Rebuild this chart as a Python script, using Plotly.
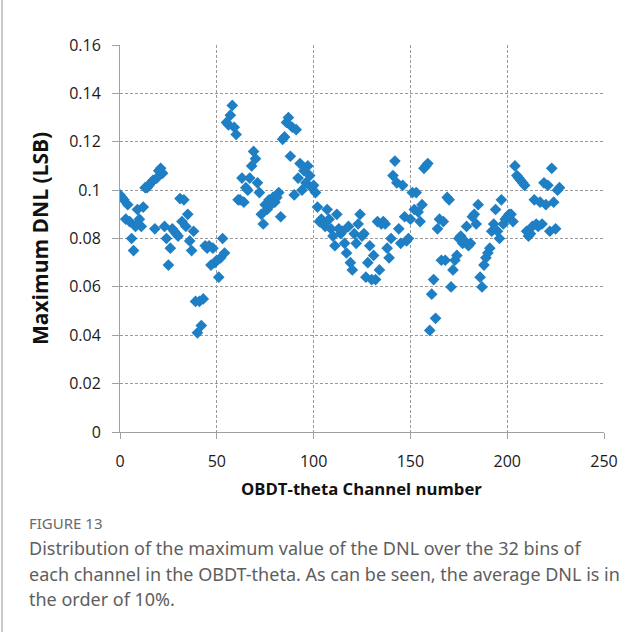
import plotly.graph_objects as go

# Maximum DNL (LSB) for each OBDT-theta channel, channel 0..227
dnl_max = [
    0.098, 0.097, 0.096, 0.088, 0.094, 0.087, 0.080, 0.075, 0.085, 0.092,
    0.088, 0.085, 0.093, 0.101, 0.101, 0.102, 0.103, 0.104, 0.084, 0.105,
    0.108, 0.109, 0.107, 0.085, 0.080, 0.069, 0.076, 0.084, 0.083, 0.082,
    0.081, 0.0965, 0.087, 0.096, 0.085, 0.090, 0.079, 0.075, 0.083, 0.054,
    0.041, 0.054, 0.044, 0.055, 0.077, 0.076, 0.077, 0.069, 0.076, 0.070,
    0.071, 0.064, 0.072, 0.080, 0.074, 0.128, 0.127, 0.131, 0.135, 0.126,
    0.123, 0.096, 0.096, 0.105, 0.095, 0.101, 0.100, 0.105, 0.110, 0.116,
    0.113, 0.103, 0.099, 0.090, 0.086, 0.094, 0.092, 0.096, 0.094, 0.097,
    0.095, 0.097, 0.099, 0.089, 0.121, 0.122, 0.128, 0.130, 0.114, 0.126,
    0.098, 0.125, 0.105, 0.111, 0.100, 0.108, 0.103, 0.110, 0.106, 0.101,
    0.102, 0.099, 0.093, 0.087, 0.088, 0.087, 0.085, 0.092, 0.088, 0.084,
    0.081, 0.077, 0.090, 0.084, 0.082, 0.083, 0.078, 0.074, 0.085, 0.070,
    0.067, 0.082, 0.078, 0.086, 0.090, 0.081, 0.082, 0.064, 0.070, 0.077,
    0.063, 0.073, 0.063, 0.087, 0.067, 0.086, 0.087, 0.086, 0.076, 0.072,
    0.080, 0.106, 0.112, 0.103, 0.084, 0.078, 0.102, 0.089, 0.079, 0.080,
    0.088, 0.099, 0.092, 0.099, 0.091, 0.087, 0.094, 0.109, 0.110, 0.111,
    0.042, 0.057, 0.063, 0.047, 0.084, 0.088, 0.071, 0.087, 0.071, 0.097,
    0.096, 0.060, 0.067, 0.071, 0.073, 0.080, 0.081, 0.078, 0.079, 0.085,
    0.077, 0.078, 0.089, 0.090, 0.086, 0.094, 0.064, 0.060, 0.069, 0.072,
    0.074, 0.076, 0.083, 0.086, 0.092, 0.083, 0.080, 0.096, 0.086, 0.088,
    0.089, 0.090, 0.090, 0.087, 0.110, 0.106, 0.105, 0.104, 0.103, 0.102,
    0.083, 0.081, 0.082, 0.085, 0.096, 0.086, 0.085, 0.095, 0.086, 0.103,
    0.094, 0.102, 0.083, 0.109, 0.095, 0.084, 0.100, 0.101,
]
channels = list(range(len(dnl_max)))

x_ticks = [0, 50, 100, 150, 200, 250]
y_ticks = [0, 0.02, 0.04, 0.06, 0.08, 0.1, 0.12, 0.14, 0.16]
y_tick_text = ["0", "0.02", "0.04", "0.06", "0.08", "0.1", "0.12", "0.14", "0.16"]

x_title = "OBDT-theta Channel number"
y_title = "Maximum DNL (LSB)"
fig_label = "FIGURE 13"
caption_lines = [
    "Distribution of the maximum value of the DNL over the 32 bins of",
    "each channel in the OBDT-theta. As can be seen, the average DNL is in",
    "the order of 10%.",
]

W, H = 642, 632
L, R, T, B = 120, 38, 45, 200
pw, ph = W - L - R, H - T - B


def px(xp):
    return (xp - L) / pw


def py(yp):
    return (H - B - yp) / ph


fig = go.Figure()
fig.add_trace(go.Scatter(
    x=channels, y=dnl_max, mode="markers",
    marker=dict(symbol="diamond", size=9, color="#1f7fc4", line=dict(width=0)),
    showlegend=False,
))

axis_font = dict(family="Open Sans, sans-serif", size=16, color="#1a1a1a")
fig.update_xaxes(
    range=[0, 250], tickvals=x_ticks, showgrid=True, gridcolor="#9a9a9a",
    griddash="3px,2px", gridwidth=1, showline=True, linecolor="#a0a0a0",
    linewidth=1, ticks="outside", ticklen=6, tickcolor="#a0a0a0",
    tickfont=axis_font, zeroline=False, ticklabelstandoff=9,
)
fig.update_yaxes(
    range=[0, 0.16], tickvals=y_ticks, ticktext=y_tick_text, showgrid=True,
    gridcolor="#9a9a9a", griddash="3px,2px", gridwidth=1, showline=True,
    linecolor="#a0a0a0", linewidth=1, ticks="outside", ticklen=7,
    tickcolor="#a0a0a0", tickfont=axis_font, zeroline=False,
    ticklabelstandoff=8,
)

annotations = [
    dict(text="<b>%s</b>" % x_title, x=px(361), y=py(488), xref="paper",
         yref="paper", showarrow=False, xanchor="center", yanchor="middle",
         font=dict(family="Open Sans, sans-serif", size=16.7, color="#111")),
    dict(text="<b>%s</b>" % y_title, x=px(40), y=py(239), xref="paper",
         yref="paper", showarrow=False, xanchor="center", yanchor="middle",
         textangle=-90,
         font=dict(family="Open Sans, sans-serif", size=21, color="#111")),
    dict(text=fig_label, x=px(27), y=py(523), xref="paper", yref="paper",
         showarrow=False, xanchor="left", yanchor="middle",
         font=dict(family="Noto Sans, sans-serif", size=15, color="#6a6a6a")),
]
for i, line in enumerate(caption_lines):
    annotations.append(dict(
        text=line, x=px(27), y=py(548 + 25.5 * i), xref="paper", yref="paper",
        showarrow=False, xanchor="left", yanchor="middle",
        font=dict(family="Noto Sans, sans-serif", size=18, color="#5e5e5e")))

fig.update_layout(
    width=W, height=H, margin=dict(l=L, r=R, t=T, b=B),
    paper_bgcolor="white", plot_bgcolor="white",
    annotations=annotations,
    shapes=[dict(type="line", xref="paper", yref="paper", x0=px(2), x1=px(2),
                 y0=py(0), y1=py(H), line=dict(color="#c8c8c8", width=2))],
)

fig.write_html("out.html")
